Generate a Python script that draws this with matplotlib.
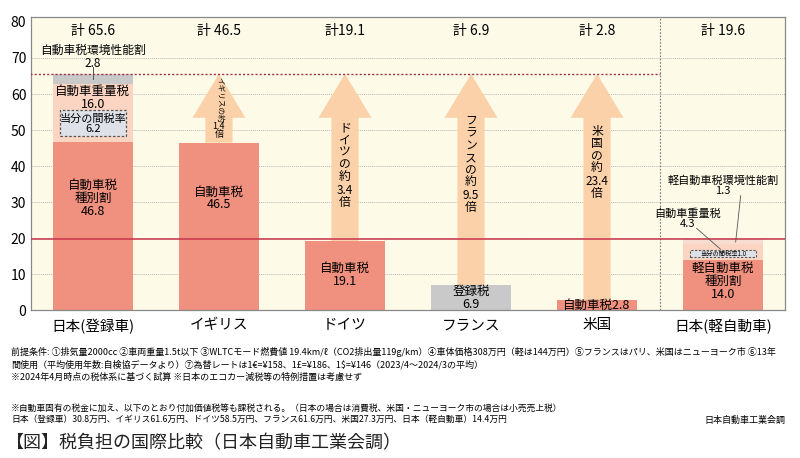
import matplotlib
matplotlib.use('Agg')
import matplotlib.pyplot as plt
from matplotlib.patches import FancyArrow, Rectangle

plt.rcParams['font.family'] = ['Noto Sans CJK JP', 'DejaVu Sans']

# data
countries = ['日本(登録車)', 'イギリス', 'ドイツ', 'フランス', '米国', '日本(軽自動車)']
totals = [65.6, 46.5, 19.1, 6.9, 2.8, 19.6]
base_tax = [46.8, 46.5, 19.1, 6.9, 2.8, 14.0]
base_names = ['自動車税\n種別割', '自動車税', '自動車税', '登録税', '自動車税', '軽自動車税\n種別割']
weight_tax = [16.0, 0, 0, 0, 0, 4.3]
env_tax = [2.8, 0, 0, 0, 0, 1.3]
provisional = [6.2, 0, 0, 0, 0, 1.0]
arrow_names = ['', 'イギリス', 'ドイツ', 'フランス', '米国']
multiples = [None, 1.4, 3.4, 9.5, 23.4]
total_labels = ['計 65.6', '計 46.5', '計19.1', '計 6.9', '計 2.8', '計 19.6']

salmon = '#f0917f'
pink = '#fbd4c2'
gray = '#c9c9c9'
peach = '#fbd1a9'
cream = '#fdfbe8'
red = '#c8344a'

fig = plt.figure(figsize=(8, 4.58), dpi=100)
ax = fig.add_axes([0.039, 0.323, 0.942, 0.64])
ax.set_facecolor(cream)
x = list(range(len(countries)))
w = 0.63

for yv in range(10, 80, 10):
    ax.axhline(yv, color='#b8b8b8', lw=0.7, ls=(0, (1, 1)), zorder=0)

base_colors = [salmon, salmon, salmon, gray, salmon, salmon]
ax.bar(x, base_tax, width=w, color=base_colors, zorder=2)
ax.bar(x, weight_tax, width=w, bottom=base_tax, color=pink, zorder=2)
bottom3 = [b + wt for b, wt in zip(base_tax, weight_tax)]
ax.bar(x, env_tax, width=w, bottom=bottom3, color=[gray, pink, pink, pink, pink, '#f7dcd2'], zorder=2)

# reference lines
ax.axhline(totals[5], color=red, lw=1.1, zorder=3)
ax.plot([-0.5, 4.5], [totals[0], totals[0]], color='#a03048', lw=1.0, ls=(0, (1.5, 1.5)), zorder=3)
ax.axvline(4.5, color='#777777', lw=0.8, ls=(0, (1.5, 1.5)), zorder=1)

# arrows
for i in range(1, 5):
    a = FancyArrow(x[i], base_tax[i], 0, totals[0] - base_tax[i], width=0.215,
                   head_width=0.42, head_length=12.2, length_includes_head=True,
                   color=peach, lw=0, zorder=1.5)
    ax.add_patch(a)

ax.text(x[1], 58.3, 'イギリスの約', rotation=-90, ha='center', va='center', fontsize=5.5, zorder=4)
ax.text(x[1], 49.8, '1.4\n倍', ha='center', va='center', fontsize=6.5, linespacing=0.85, zorder=4)
arrow_tops = [0, 0, 52.5, 54.5, 51.5]
for i in range(2, 5):
    s = '\n'.join(list(arrow_names[i] + 'の約')) + '\n' + str(multiples[i]) + '\n倍'
    ax.text(x[i], arrow_tops[i], s, ha='center', va='top', fontsize=8.5, linespacing=0.95, zorder=4)

# totals on top
for i in range(len(countries)):
    ax.text(x[i], 77.5, total_labels[i], ha='center', va='center', fontsize=10)

# bar labels
ax.text(x[0], 31, base_names[0] + '\n' + str(base_tax[0]), ha='center', va='center',
        fontsize=9, linespacing=1.0, zorder=4)
ax.text(x[1], 31, base_names[1] + '\n' + str(base_tax[1]), ha='center', va='center',
        fontsize=9, linespacing=1.0, zorder=4)
ax.text(x[2], 9.8, base_names[2] + '\n' + str(base_tax[2]), ha='center', va='center',
        fontsize=9, linespacing=1.0, zorder=4)
ax.text(x[3], 3.4, base_names[3] + '\n' + str(base_tax[3]), ha='center', va='center',
        fontsize=9, linespacing=1.0, zorder=4)
ax.text(x[4], 1.3, base_names[4] + str(base_tax[4]), ha='center', va='center',
        fontsize=9, zorder=4)
ax.text(x[5], 8.0, base_names[5] + '\n' + str(base_tax[5]), ha='center', va='center',
        fontsize=9, linespacing=1.0, zorder=4)

# Japan registered car details
ax.text(x[0], 59.0, '自動車重量税\n' + str(weight_tax[0]), ha='center', va='center',
        fontsize=9, linespacing=1.0, zorder=4)
ax.add_patch(Rectangle((x[0] - 0.26, 48.2), 0.52, 7.3, facecolor='#dfe1e8',
                       edgecolor='#555555', ls=(0, (2, 1.5)), lw=0.9, zorder=3))
ax.text(x[0], 51.8, '当分の間税率\n' + str(provisional[0]), ha='center', va='center',
        fontsize=8, linespacing=1.0, zorder=4)
ax.text(x[0], 70.3, '自動車税環境性能割\n' + str(env_tax[0]), ha='center', va='center',
        fontsize=8.5, linespacing=1.0, zorder=4)
ax.plot([x[0], x[0]], [67.6, 64.3], color='#555555', lw=0.7, zorder=4)

# kei car details
ax.add_patch(Rectangle((x[5] - 0.26, 14.6), 0.52, 2.0, facecolor='#dfe1e8',
                       edgecolor='#555555', ls=(0, (2, 1.5)), lw=0.8, zorder=3))
ax.text(x[5], 15.6, '当分の間税率' + str(provisional[5]), ha='center', va='center',
        fontsize=4.5, zorder=4)
ax.text(x[5], 34.5, '軽自動車税環境性能割\n' + str(env_tax[5]), ha='center', va='center',
        fontsize=8, linespacing=1.0, zorder=4)
ax.plot([x[5] + 0.14, x[5] + 0.1], [31.8, 18.9], color='#555555', lw=0.6, zorder=4)
ax.text(x[5] - 0.28, 25.5, '自動車重量税\n' + str(weight_tax[5]), ha='center', va='center',
        fontsize=8, linespacing=1.0, zorder=4)
ax.plot([x[5] - 0.21, x[5] - 0.02], [22.7, 16.9], color='#555555', lw=0.6, zorder=4)

ax.set_xlim(-0.49, 5.49)
ax.set_ylim(0, 81.4)
ax.set_yticks(range(0, 90, 10))
ax.set_xticks(x)
ax.set_xticklabels(countries, fontsize=10.5)
ax.tick_params(axis='both', length=0, labelsize=10)
ax.tick_params(axis='x', pad=6, labelsize=10.5)
for s in ax.spines.values():
    s.set_color('#888888')
    s.set_linewidth(0.9)

# footnotes
notes1 = [
    '前提条件: ①排気量2000cc ②車両重量1.5t以下 ③WLTCモード燃費値 19.4km/ℓ（CO2排出量119g/km）④車体価格308万円（軽は144万円）⑤フランスはパリ、米国はニューヨーク市 ⑥13年',
    '間使用（平均使用年数:自検協データより）⑦為替レートは1€=¥158、1£=¥186、1$=¥146（2023/4～2024/3の平均）',
    '※2024年4月時点の税体系に基づく試算 ※日本のエコカー減税等の特例措置は考慮せず',
]
for k, t in enumerate(notes1):
    fig.text(0.014, 1 - (352 + 12.5 * k) / 458, t, fontsize=6.5, va='center', ha='left')
notes2 = [
    '※自動車固有の税金に加え、以下のとおり付加価値税等も課税される。（日本の場合は消費税、米国・ニューヨーク市の場合は小売売上税）',
    '日本（登録車）30.8万円、イギリス61.6万円、ドイツ58.5万円、フランス61.6万円、米国27.3万円、日本（軽自動車）14.4万円',
]
for k, t in enumerate(notes2):
    fig.text(0.014, 1 - (408 + 11.5 * k) / 458, t, fontsize=6.3, va='center', ha='left')
fig.text(0.982, 1 - 420 / 458, '日本自動車工業会調', fontsize=6.5, va='center', ha='right')
fig.text(0.008, 1 - 443 / 458, '【図】税負担の国際比較（日本自動車工業会調）', fontsize=13,
         va='center', ha='left', color='#222222')

fig.savefig('out.png', dpi=100)
